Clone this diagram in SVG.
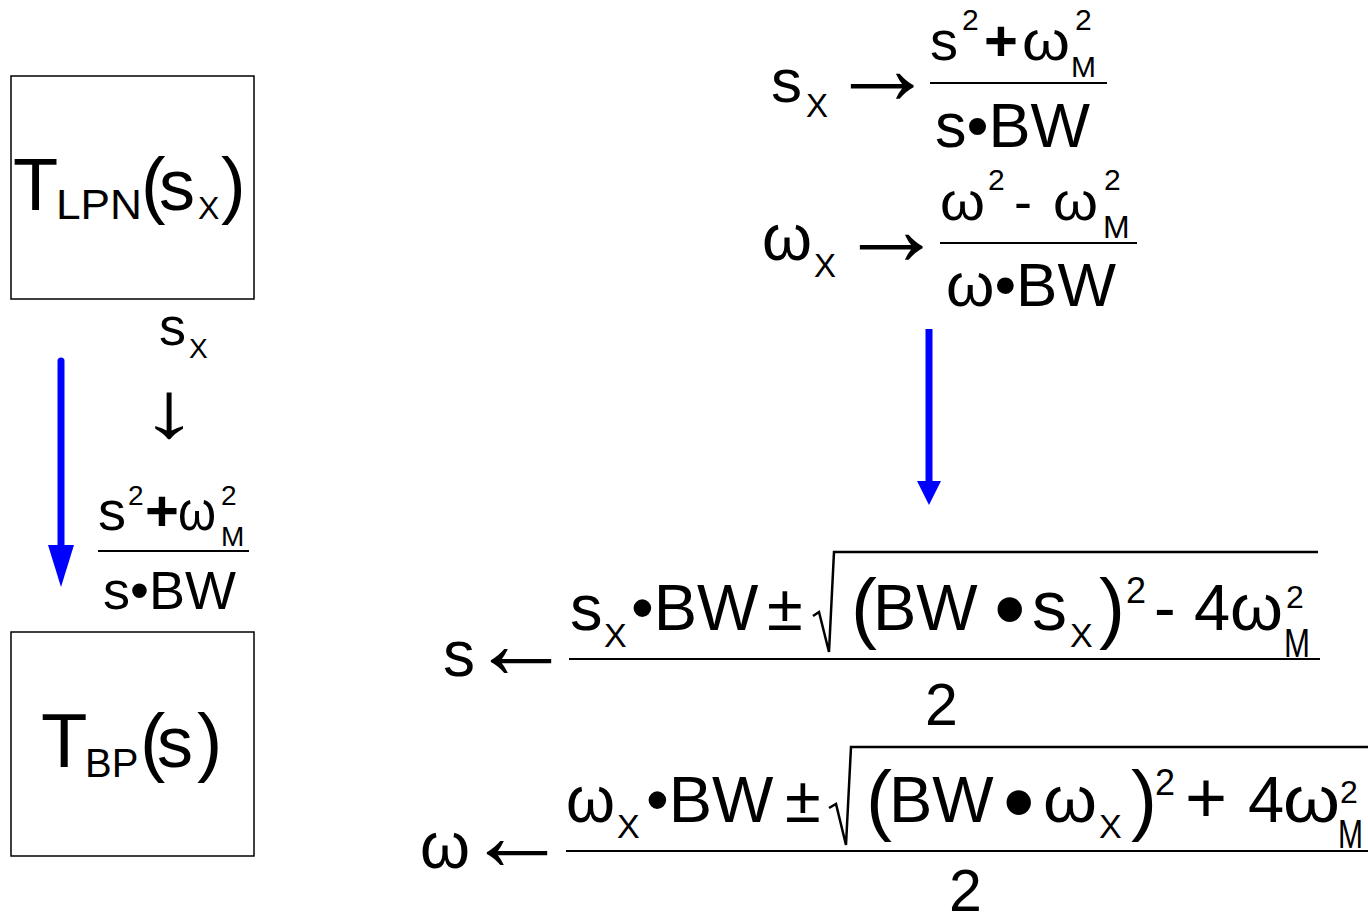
<svg xmlns="http://www.w3.org/2000/svg" width="1368" height="915" viewBox="0 0 1368 915">
<style>
text{font-family:"Liberation Sans",Arial,sans-serif;fill:#000}
.box{fill:#fff;stroke:#000;stroke-width:1.5}
.rule{stroke:#000;stroke-width:2;fill:none}
.rad{stroke:#000;stroke-width:2.5;fill:none;stroke-linejoin:miter}
.blue{stroke:#0000ff;stroke-width:7;fill:none}
.arr{text-anchor:middle}
</style>
<defs>
<marker id="hL" viewBox="0 0 42 26" markerWidth="42" markerHeight="26" markerUnits="userSpaceOnUse" refX="2" refY="13" orient="auto"><path d="M0,0 L42,13 L0,26 z" fill="#0000ff"/></marker>
<marker id="hR" viewBox="0 0 24 24" markerWidth="24" markerHeight="24" markerUnits="userSpaceOnUse" refX="2" refY="12" orient="auto"><path d="M0,0 L24,12 L0,24 z" fill="#0000ff"/></marker>
</defs>
<rect width="1368" height="915" fill="#fff"/>

<g id="connectors">
<line class="blue" x1="61" y1="361" x2="61" y2="547" stroke-linecap="round" marker-end="url(#hL)"/>
<line class="blue" x1="929" y1="329" x2="929" y2="483" marker-end="url(#hR)"/>
</g>

<g id="node-lowpass">
<rect class="box" x="11" y="76" width="243" height="223"/>
<text x="13" y="210" font-size="74">T</text>
<text x="56" y="219" font-size="42" textLength="86" lengthAdjust="spacingAndGlyphs">LPN</text>
<text x="141" y="210" font-size="74">(</text>
<text x="159" y="210" font-size="72">s</text>
<text x="198" y="219" font-size="32">X</text>
<text x="221" y="210" font-size="74">)</text>
</g>

<g id="node-bandpass">
<rect class="box" x="11" y="632" width="243" height="224"/>
<text x="41" y="767" font-size="76">T</text>
<text x="85" y="777" font-size="40">BP</text>
<text x="140" y="767" font-size="76">(</text>
<text x="157" y="767" font-size="72">s</text>
<text x="197" y="767" font-size="76">)</text>
</g>

<g id="label-left">
<text x="159" y="345" font-size="54">s</text>
<text x="189" y="358" font-size="28">X</text>
<text class="arr" transform="translate(169,437) scale(1.5,1)" font-size="79">↓</text>
<text x="98" y="530" font-size="56">s</text>
<text x="128" y="505" font-size="28">2</text>
<text x="145" y="531" font-size="58" font-weight="bold">+</text>
<text x="178" y="530" font-size="56" textLength="38" lengthAdjust="spacingAndGlyphs">ω</text>
<text x="221" y="505" font-size="28">2</text>
<text x="221" y="546" font-size="28">M</text>
<line class="rule" x1="98" y1="551" x2="249" y2="551" stroke-width="1.5"/>
<text x="103" y="609" font-size="54">s•BW</text>
</g>

<g id="formula-forward">
<text x="771" y="102" font-size="62">s</text>
<text x="806" y="117" font-size="33">X</text>
<text class="arr" x="882" y="104" font-size="106">→</text>
<text x="930" y="60" font-size="56">s</text>
<text x="962" y="30" font-size="30">2</text>
<text x="984" y="61" font-size="58" font-weight="bold">+</text>
<text x="1022" y="60" font-size="56" textLength="48" lengthAdjust="spacingAndGlyphs">ω</text>
<text x="1075" y="30" font-size="30">2</text>
<text x="1071" y="77" font-size="30">M</text>
<line class="rule" x1="930" y1="83" x2="1107" y2="83" stroke-width="1.5"/>
<text x="935" y="147" font-size="63">s•BW</text>

<text x="762" y="260" font-size="64" textLength="50" lengthAdjust="spacingAndGlyphs">ω</text>
<text x="814" y="277" font-size="33">X</text>
<text class="arr" x="891" y="265" font-size="106">→</text>
<text x="940" y="220" font-size="54" textLength="45" lengthAdjust="spacingAndGlyphs">ω</text>
<text x="988" y="190" font-size="30">2</text>
<text x="1014" y="220" font-size="54">-</text>
<text x="1053" y="220" font-size="54" textLength="45" lengthAdjust="spacingAndGlyphs">ω</text>
<text x="1104" y="190" font-size="30">2</text>
<text x="1103" y="238" font-size="32">M</text>
<line class="rule" x1="940" y1="243" x2="1137" y2="243" stroke-width="1.5"/>
<text x="946" y="306" font-size="62">ω•BW</text>
</g>

<g id="formula-inverse-s">
<text x="443" y="676" font-size="64">s</text>
<text class="arr" x="521" y="678" font-size="102">←</text>
<text x="570" y="630" font-size="65">s</text>
<text x="604" y="647" font-size="34">X</text>
<text x="631" y="630" font-size="65">•BW</text>
<text x="767" y="630" font-size="65">±</text>
<path class="rad" d="M813,616 L819,612 L829,652 L834,552 L1318,552"/>
<text x="851" y="634" font-size="78">(</text>
<text x="873" y="630" font-size="65">BW</text>
<text x="994" y="640" font-size="90">•</text>
<text x="1032" y="630" font-size="70">s</text>
<text x="1070" y="647" font-size="34">X</text>
<text x="1099" y="634" font-size="78">)</text>
<text x="1126" y="603" font-size="36">2</text>
<text x="1154" y="630" font-size="65">-</text>
<text x="1194" y="630" font-size="65">4</text>
<text x="1230" y="630" font-size="65" textLength="53" lengthAdjust="spacingAndGlyphs">ω</text>
<text x="1286" y="608" font-size="32">2</text>
<text x="1284" y="657" font-size="40" textLength="26" lengthAdjust="spacingAndGlyphs">M</text>
<line class="rule" x1="569" y1="659" x2="1320" y2="659"/>
<text x="925" y="725" font-size="59">2</text>
</g>

<g id="formula-inverse-w">
<text x="420" y="868" font-size="64" textLength="50" lengthAdjust="spacingAndGlyphs">ω</text>
<text class="arr" x="517" y="870" font-size="102">←</text>
<text x="566" y="822" font-size="65" textLength="49" lengthAdjust="spacingAndGlyphs">ω</text>
<text x="617" y="838" font-size="34">X</text>
<text x="646" y="822" font-size="65">•BW</text>
<text x="785" y="822" font-size="65">±</text>
<path class="rad" d="M829,808 L836,804 L846,845 L851,747 L1368,747"/>
<text x="866" y="826" font-size="78">(</text>
<text x="889" y="822" font-size="65">BW</text>
<text x="1003" y="833" font-size="90">•</text>
<text x="1043" y="822" font-size="65" textLength="54" lengthAdjust="spacingAndGlyphs">ω</text>
<text x="1099" y="838" font-size="34">X</text>
<text x="1131" y="826" font-size="78">)</text>
<text x="1155" y="795" font-size="36">2</text>
<text x="1185" y="822" font-size="72">+</text>
<text x="1248" y="822" font-size="65">4</text>
<text x="1283" y="822" font-size="65" textLength="57" lengthAdjust="spacingAndGlyphs">ω</text>
<text x="1340" y="803" font-size="32">2</text>
<text x="1338" y="848" font-size="40" textLength="25" lengthAdjust="spacingAndGlyphs">M</text>
<line class="rule" x1="566" y1="851" x2="1368" y2="851"/>
<text x="949" y="911" font-size="59">2</text>
</g>
</svg>
